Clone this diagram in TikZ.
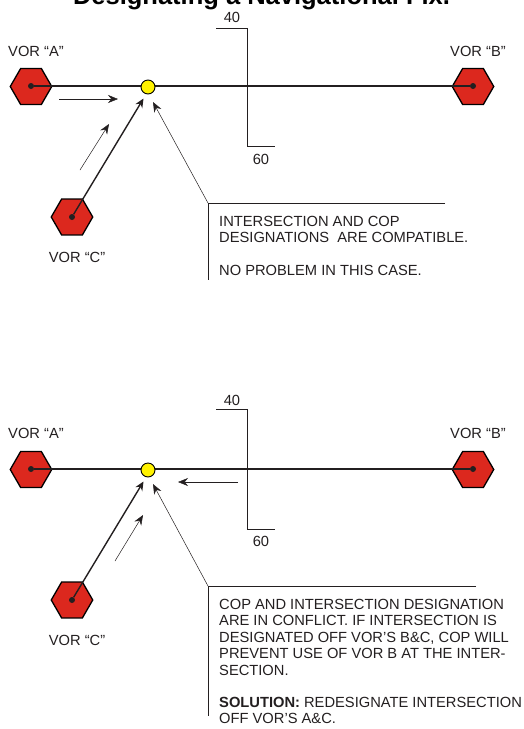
\documentclass[tikz,border=0pt]{standalone}
\usepackage{fontspec}
\setmainfont{Liberation Sans}
\usetikzlibrary{shapes.geometric,arrows.meta}
\definecolor{vorred}{HTML}{DC281E}
\definecolor{inkdark}{HTML}{231F20}
\tikzset{
    vorhex/.style={regular polygon,regular polygon sides=6,draw=black,line width=1.3pt,fill=vorred,minimum size=41.5pt,inner sep=0pt},
    vordot/.style={circle,fill=inkdark,minimum size=6pt,inner sep=0pt},
    fixdot/.style={circle,draw=black,line width=0.9pt,fill=yellow,minimum size=14pt,inner sep=0pt},
    airway/.style={inkdark,line width=1.8pt},
    bar/.style={inkdark,line width=1pt},
    thinarrow/.style={inkdark,line width=0.5pt,-{Stealth[length=10pt,width=8pt]}},
    heavyarrow/.style={inkdark,line width=1.4pt,-{Stealth[length=9pt,width=8pt]}},
    rule/.style={inkdark,line width=0.6pt},
    lbl/.style={text=inkdark,font=\fontsize{14.7}{16}\selectfont,inner sep=0pt},
    note/.style={text=inkdark,font=\fontsize{14.7}{16.4}\selectfont,inner sep=0pt,anchor=north west,align=left}
}
\begin{document}
\begin{tikzpicture}[x=1pt,y=-1pt]
        \useasboundingbox (0,0) rectangle (524,729);
        \node[font=\fontsize{25.5}{26}\bfseries\selectfont,inner sep=0pt,anchor=base] (title) at (261.5,4) {Designating a Navigational Fix.};

        \node[vorhex] (hexAa) at (31,86.5) {};
        \node[vorhex] (hexBa) at (473,86.5) {};
        \node[vorhex] (hexCa) at (72,217) {};
        \node[vordot] (dotAa) at (31,86) {};
        \node[vordot] (dotBa) at (473,86) {};
        \node[vordot] (dotCa) at (72,217) {};
        \draw[airway] (dotAa) -- (dotBa);
        \node[fixdot] (fixa) at (148,87) {};
        \coordinate (tipCa) at (143.5,98.5);
        \draw[heavyarrow] (dotCa) -- (tipCa);
        \node[lbl] (labAa) at (36,51) {VOR “A”};
        \node[lbl] (labBa) at (478,51) {VOR “B”};
        \node[lbl] (labCa) at (77,257) {VOR “C”};
        \coordinate (barAa) at (216,28);
        \coordinate (barBa) at (247,28);
        \coordinate (barCa) at (247,146);
        \coordinate (barDa) at (275,146);
        \draw[bar] (barAa) -- (barBa) -- (barCa) -- (barDa);
        \node[lbl] (forty) at (232,17) {40};
        \node[lbl] (sixty) at (261,159) {60};
        \coordinate (arAa) at (59,99);
        \coordinate (arBa) at (118,99);
        \draw[thinarrow] (arAa) -- (arBa);
        \coordinate (arCa) at (80,170);
        \coordinate (arDa) at (109,124);
        \draw[thinarrow] (arCa) -- (arDa);
        \coordinate (boxa) at (208,203);
        \coordinate (tipa) at (153,102);
        \coordinate (ruleRa) at (445,203);
        \coordinate (ruleBa) at (208,280);
        \draw[thinarrow] (boxa) -- (tipa);
        \draw[rule] (ruleRa) -- (boxa) -- (ruleBa);
        \node[note] (notea) at (219,216) {INTERSECTION AND COP\\DESIGNATIONS\ \ ARE COMPATIBLE.\\[16pt]NO PROBLEM IN THIS CASE.};

        \node[vorhex] (hexAb) at (31,469.5) {};
        \node[vorhex] (hexBb) at (473,469.5) {};
        \node[vorhex] (hexCb) at (72,600) {};
        \node[vordot] (dotAb) at (31,469) {};
        \node[vordot] (dotBb) at (473,469) {};
        \node[vordot] (dotCb) at (72,600) {};
        \draw[airway] (dotAb) -- (dotBb);
        \node[fixdot] (fixb) at (148,470) {};
        \coordinate (tipCb) at (143.5,481.5);
        \draw[heavyarrow] (dotCb) -- (tipCb);
        \node[lbl] (labAb) at (36,433.5) {VOR “A”};
        \node[lbl] (labBb) at (478,433.5) {VOR “B”};
        \node[lbl] (labCb) at (77,640) {VOR “C”};
        \coordinate (barAb) at (216,409);
        \coordinate (barBb) at (247,409);
        \coordinate (barCb) at (247,529);
        \coordinate (barDb) at (275,529);
        \draw[bar] (barAb) -- (barBb) -- (barCb) -- (barDb);
        \node[lbl] (fortyb) at (232,400) {40};
        \node[lbl] (sixtyb) at (261,541) {60};
        \coordinate (arAb) at (238,482);
        \coordinate (arBb) at (178,482);
        \draw[thinarrow] (arAb) -- (arBb);
        \coordinate (arCb) at (115,561);
        \coordinate (arDb) at (143,515);
        \draw[thinarrow] (arCb) -- (arDb);
        \coordinate (boxb) at (208,586);
        \coordinate (tipb) at (153,484);
        \coordinate (ruleRb) at (476,586);
        \coordinate (ruleBb) at (208,716);
        \draw[thinarrow] (boxb) -- (tipb);
        \draw[rule] (ruleRb) -- (boxb) -- (ruleBb);
        \node[note] (noteb) at (219,599) {COP AND INTERSECTION DESIGNATION\\ARE IN CONFLICT. IF INTERSECTION IS\\DESIGNATED OFF VOR’S B\&C, COP WILL\\PREVENT USE OF VOR B AT THE INTER-\\SECTION.\\[16pt]\textbf{SOLUTION:} REDESIGNATE INTERSECTION\\OFF VOR’S A\&C.};
    \end{tikzpicture}
\end{document}
